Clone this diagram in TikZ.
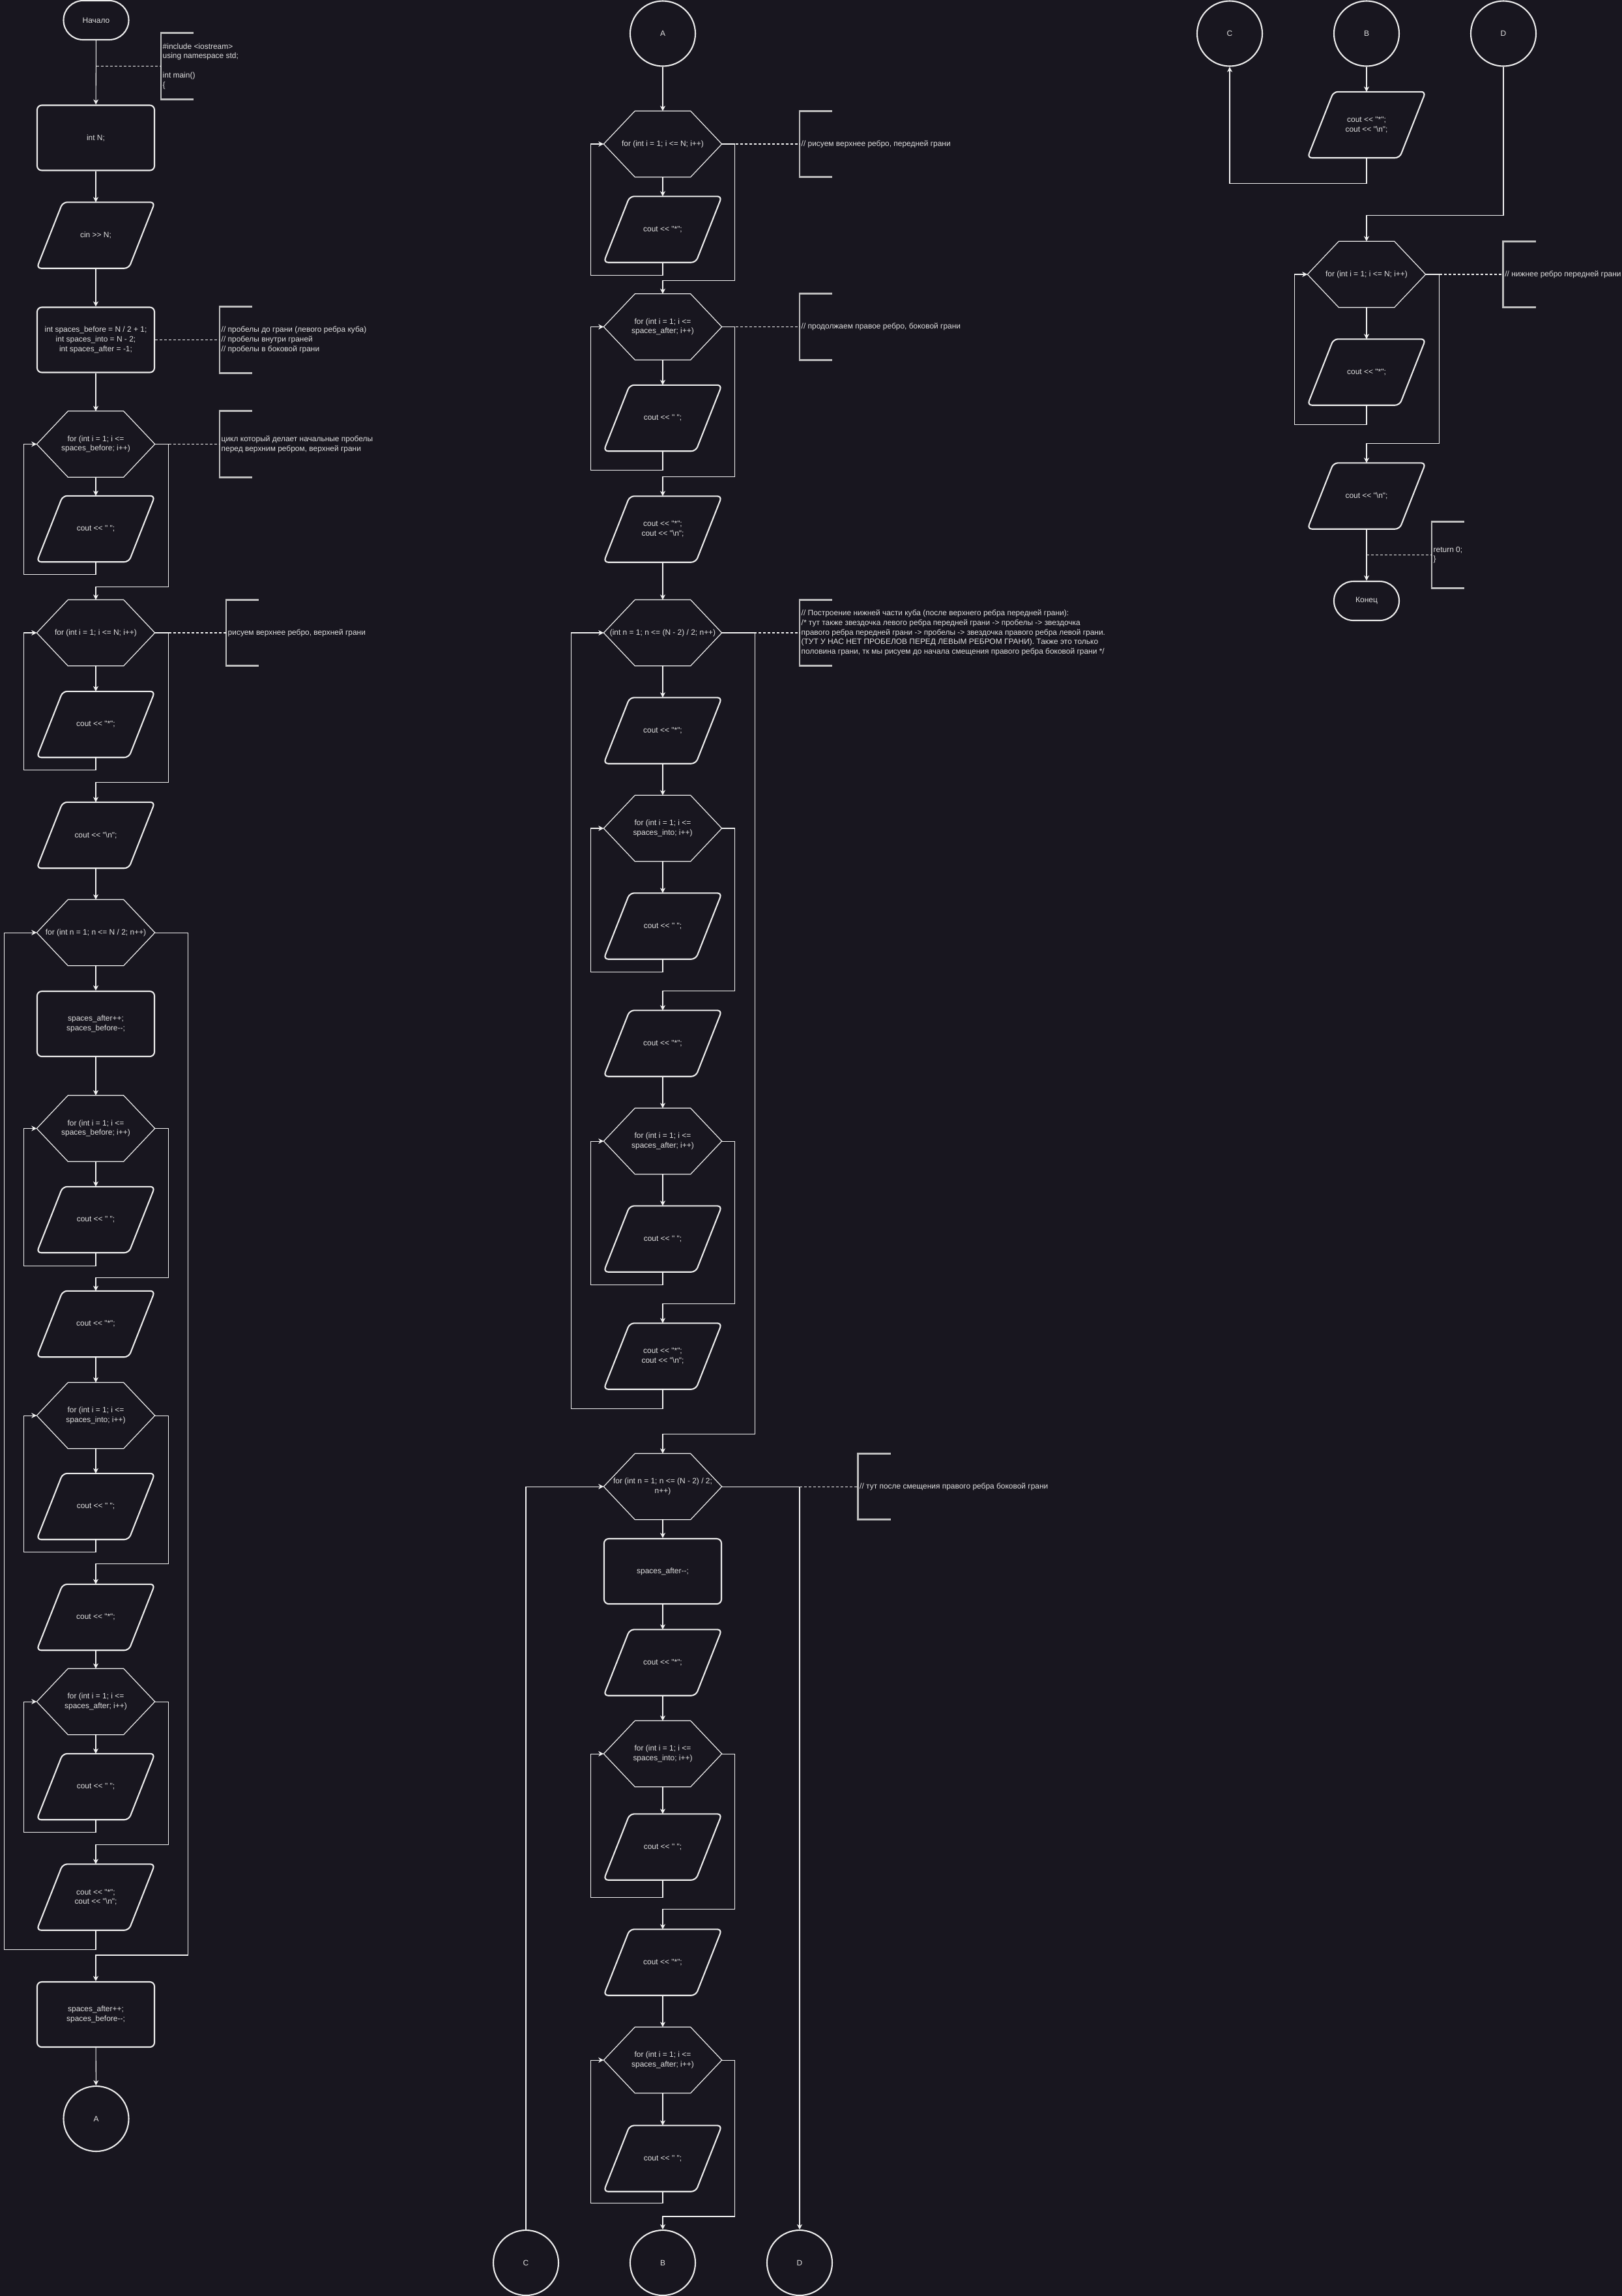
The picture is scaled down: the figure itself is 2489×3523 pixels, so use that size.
\documentclass[tikz,border=0pt]{standalone}
\usepackage{fontspec}
\setmainfont{Liberation Sans}[Ligatures=TeXOff]
\usetikzlibrary{arrows.meta,calc}
\definecolor{bgc}{RGB}{24,22,31}
\definecolor{shp}{RGB}{236,236,236}
\definecolor{txt}{RGB}{224,224,224}
\definecolor{lin}{RGB}{242,242,242}
\definecolor{brkc}{RGB}{190,190,190}
\newcommand\ionode[4]{%
  \node[box] (#1) at (#2,#3) {#4};
  \draw[ioline] (#1.south west) -- ($(#1.south east)+(-40,0)$) -- (#1.north east) -- ($(#1.north west)+(40,0)$) -- cycle;}
\newcommand\hexnode[4]{%
  \node[box] (#1) at (#2,#3) {#4};
  \draw[hexline] (#1.west) -- ($(#1.north west)+(48,0)$) -- ($(#1.north east)+(-48,0)$) -- (#1.east) -- ($(#1.south east)+(-48,0)$) -- ($(#1.south west)+(48,0)$) -- cycle;}
\newcommand\cmtnode[4]{%
  \node[cmt] (#1) at (#2,#3) {#4};
  \draw[brk] ($(#1.north west)+(50,0)$) -- (#1.north west) -- (#1.south west) -- ($(#1.south west)+(50,0)$);}
\newcommand\loopback[4]{\draw[arr] (#1.south) -- ++(0,#3) -| ($(#2.west)+(-#4,0)$) -- (#2.west);}
\newcommand\loopexit[4]{\draw[arr] (#1.east) -- ++(#3,0) |- ($(#2.north)+(0,-#4)$) -- (#2.north);}
\begin{document}
\begin{tikzpicture}[x=0.1mm,y=-0.1mm,
  base/.style={font=\fontsize{3.4pt}{4.2pt}\selectfont, text=txt, align=center, inner sep=0pt},
  box/.style={base, minimum width=18mm, minimum height=10mm},
  proc/.style={box, draw=shp, line width=0.6pt, rounded corners=0.7mm},
  term/.style={base, draw=shp, line width=0.6pt, rounded corners=2.99mm, minimum width=10mm, minimum height=6mm},
  conn/.style={base, draw=shp, line width=0.6pt, circle, minimum size=10mm},
  ioline/.style={draw=shp, line width=0.6pt, rounded corners=0.7mm},
  hexline/.style={draw=shp, line width=0.35pt},
  arr/.style={draw=lin, line width=0.3pt, -{Stealth[length=0.8mm,width=0.8mm,inset=0.25mm]}},
  cmtlink/.style={draw=lin, line width=0.3pt, dash pattern=on 0.4mm off 0.3mm},
  brk/.style={draw=brkc, line width=0.8pt},
  cmt/.style={font=\fontsize{3.4pt}{4.2pt}\selectfont, text=txt, align=left, anchor=west, inner xsep=0.2mm, inner ysep=0pt, minimum height=10mm}
]
\fill[bgc] (0,0) rectangle (2489,3523);
\useasboundingbox (0,0) rectangle (2489,3523);

% ---------------- left column ----------------
\node[term] (start) at (147.5,31) {Начало};
\node[proc] (n1) at (147,211.5) {int N;};
\ionode{n2}{147}{361}{cin >> N;}
\node[proc] (n3) at (147,521.5) {int spaces\_before = N / 2 + 1;\\int spaces\_into = N - 2;\\int spaces\_after = -1;};
\hexnode{h1}{147}{681.5}{for (int i = 1; i <=\\spaces\_before; i++)}
\ionode{p1}{147}{811.5}{cout << " ";}
\hexnode{h2}{147}{971}{for (int i = 1; i <= N; i++)}
\ionode{p2}{147}{1111.5}{cout << "*";}
\ionode{p3}{147}{1281.5}{cout << "\textbackslash n";}
\hexnode{h3}{147}{1431}{for (int n = 1; n <= N / 2; n++)}
\node[proc] (r1) at (147,1571) {spaces\_after++;\\spaces\_before--;};
\hexnode{h4}{147}{1731.5}{for (int i = 1; i <=\\spaces\_before; i++)}
\ionode{p4}{147}{1871.5}{cout << " ";}
\ionode{p5}{147}{2031.5}{cout << "*";}
\hexnode{h5}{147}{2172}{for (int i = 1; i <=\\spaces\_into; i++)}
\ionode{p6}{147}{2311.5}{cout << " ";}
\ionode{p7}{147}{2481.5}{cout << "*";}
\hexnode{h6}{147}{2611}{for (int i = 1; i <=\\spaces\_after; i++)}
\ionode{p8}{147}{2741.5}{cout << " ";}
\ionode{p9}{147}{2911}{cout << "*";\\cout << "\textbackslash n";}
\node[proc] (r2) at (147,3091) {spaces\_after++;\\spaces\_before--;};
\node[conn] (a1) at (147.5,3251) {A};

\coordinate (j1) at (147.5,101.5);
\cmtnode{b1}{247}{101.5}{\#include <iostream>\\using namespace std;\\[4.2pt]int main()\\\{}
\cmtnode{b2}{337}{521.5}{// пробелы до грани (левого ребра куба)\\// пробелы внутри граней\\// пробелы в боковой грани}
\cmtnode{b3}{337}{681.5}{цикл который делает начальные пробелы\\перед верхним ребром, верхней грани}
\cmtnode{b4}{347}{971}{рисуем верхнее ребро, верхней грани}
\draw[cmtlink] (j1) -- (b1.west);
\draw[cmtlink] (n3.east) -- (b2.west);
\draw[cmtlink] (h1.east) -- (b3.west);
\draw[cmtlink] (h2.east) -- (b4.west);

\draw[arr] (start) -- (n1);
\draw[arr] (n1) -- (n2.north);
\draw[arr] (n2.south) -- (n3);
\draw[arr] (n3) -- (h1.north);
\draw[arr] (h1.south) -- (p1.north);
\loopback{p1}{h1}{19.5}{19.5}
\loopexit{h1}{h2}{20.5}{20}
\draw[arr] (h2.south) -- (p2.north);
\loopback{p2}{h2}{19.5}{19.5}
\loopexit{h2}{p3}{20.5}{30}
\draw[arr] (p3.south) -- (h3.north);
\draw[arr] (h3.south) -- (r1);
\draw[arr] (r1) -- (h4.north);
\draw[arr] (h4.south) -- (p4.north);
\loopback{p4}{h4}{20}{19.5}
\loopexit{h4}{p5}{20.5}{20}
\draw[arr] (p5.south) -- (h5.north);
\draw[arr] (h5.south) -- (p6.north);
\loopback{p6}{h5}{19.5}{19.5}
\loopexit{h5}{p7}{20.5}{31}
\draw[arr] (p7.south) -- (h6.north);
\draw[arr] (h6.south) -- (p8.north);
\loopback{p8}{h6}{19.5}{19.5}
\loopexit{h6}{p9}{20.5}{30}
\loopback{p9}{h3}{30}{49.5}
\loopexit{h3}{r2}{50.5}{40}
\draw[arr] (r2) -- (a1);

% ---------------- middle column ----------------
\node[conn] (a2) at (1017,51.5) {A};
\hexnode{m1}{1017}{221}{for (int i = 1; i <= N; i++)}
\ionode{mp1}{1017}{352}{cout << "*";}
\hexnode{m2}{1017}{501.5}{for (int i = 1; i <=\\spaces\_after; i++)}
\ionode{mp2}{1017}{641.5}{cout << " ";}
\ionode{mp3}{1017}{812}{cout << "*";\\cout << "\textbackslash n";}
\hexnode{m3}{1017}{971}{(int n = 1; n <= (N - 2) / 2; n++)}
\ionode{mp4}{1017}{1121}{cout << "*";}
\hexnode{m4}{1017}{1271}{for (int i = 1; i <=\\spaces\_into; i++)}
\ionode{mp5}{1017}{1421}{cout << " ";}
\ionode{mp6}{1017}{1601}{cout << "*";}
\hexnode{m5}{1017}{1751}{for (int i = 1; i <=\\spaces\_after; i++)}
\ionode{mp7}{1017}{1901}{cout << " ";}
\ionode{mp8}{1017}{2081}{cout << "*";\\cout << "\textbackslash n";}
\hexnode{m6}{1017}{2281}{for (int n = 1; n <= (N - 2) / 2;\\n++)}
\node[proc] (mr1) at (1017,2411) {spaces\_after--;};
\ionode{mp9}{1017}{2551}{cout << "*";}
\hexnode{m7}{1017}{2691}{for (int i = 1; i <=\\spaces\_into; i++)}
\ionode{mp10}{1017}{2834}{cout << " ";}
\ionode{mp11}{1017}{3011}{cout << "*";}
\hexnode{m8}{1017}{3161}{for (int i = 1; i <=\\spaces\_after; i++)}
\ionode{mp12}{1017}{3312}{cout << " ";}
\node[conn] (cC) at (807,3472) {C};
\node[conn] (cB) at (1017,3472) {B};
\node[conn] (cD) at (1227,3472) {D};

\cmtnode{bm1}{1227}{221}{// рисуем верхнее ребро, передней грани}
\cmtnode{bm2}{1227}{501.5}{// продолжаем правое ребро, боковой грани}
\cmtnode{bm3}{1227}{971}{// Построение нижней части куба (после верхнего ребра передней грани):\\/* тут также звездочка левого ребра передней грани -> пробелы -> звездочка\\правого ребра передней грани -> пробелы -> звездочка правого ребра левой грани.\\(ТУТ У НАС НЕТ ПРОБЕЛОВ ПЕРЕД ЛЕВЫМ РЕБРОМ ГРАНИ). Также это только\\половина грани, тк мы рисуем до начала смещения правого ребра боковой грани */}
\cmtnode{bm6}{1316.5}{2281}{// тут после смещения правого ребра боковой грани}
\draw[cmtlink] (m1.east) -- (bm1.west);
\draw[cmtlink] (m2.east) -- (bm2.west);
\draw[cmtlink] (m3.east) -- (bm3.west);
\draw[cmtlink] (m6.east) -- (bm6.west);

\draw[arr] (a2) -- (m1.north);
\draw[arr] (m1.south) -- (mp1.north);
\loopback{mp1}{m1}{19.5}{20}
\loopexit{m1}{m2}{20}{20}
\draw[arr] (m2.south) -- (mp2.north);
\loopback{mp2}{m2}{29}{20}
\loopexit{m2}{mp3}{20}{30}
\draw[arr] (mp3.south) -- (m3.north);
\draw[arr] (m3.south) -- (mp4.north);
\draw[arr] (mp4.south) -- (m4.north);
\draw[arr] (m4.south) -- (mp5.north);
\loopback{mp5}{m4}{20}{20}
\loopexit{m4}{mp6}{20}{30}
\draw[arr] (mp6.south) -- (m5.north);
\draw[arr] (m5.south) -- (mp7.north);
\loopback{mp7}{m5}{20}{20}
\loopexit{m5}{mp8}{20}{30}
\loopback{mp8}{m3}{30}{50}
\loopexit{m3}{m6}{50.5}{30}
\draw[arr] (m6.south) -- (mr1);
\draw[arr] (mr1) -- (mp9.north);
\draw[arr] (mp9.south) -- (m7.north);
\draw[arr] (m7.south) -- (mp10.north);
\loopback{mp10}{m7}{27}{20}
\loopexit{m7}{mp11}{20}{31}
\draw[arr] (mp11.south) -- (m8.north);
\draw[arr] (m8.south) -- (mp12.north);
\loopback{mp12}{m8}{18}{20}
\loopexit{m8}{cB}{20}{20}
\draw[arr] (cC.north) |- (m6.west);
\draw[arr] (m6.east) -| (cD.north);

% ---------------- right column ----------------
\node[conn] (rC) at (1887,51.5) {C};
\node[conn] (rB) at (2097,51.5) {B};
\node[conn] (rD) at (2307,51.5) {D};
\ionode{rp1}{2097}{191.5}{cout << "*";\\cout << "\textbackslash n";}
\hexnode{rh1}{2097}{421}{for (int i = 1; i <= N; i++)}
\ionode{rp2}{2097}{571}{cout << "*";}
\ionode{rp3}{2097}{761}{cout << "\textbackslash n";}
\node[term] (fin) at (2097,922) {Конец};

\coordinate (j2) at (2097,851.5);
\cmtnode{br1}{2306.6}{421}{// нижнее ребро передней грани}
\cmtnode{br2}{2197}{851.5}{return 0;\\\}}
\draw[cmtlink] (rh1.east) -- (br1.west);
\draw[cmtlink] (j2) -- (br2.west);

\draw[arr] (rB) -- (rp1.north);
\draw[arr] (rp1.south) -- ++(0,39.5) -| (rC.south);
\draw[arr] (rD.south) |- ($(rh1.north)+(0,-39.5)$) -- (rh1.north);
\draw[arr] (rh1.south) -- (rp2.north);
\loopback{rp2}{rh1}{30}{19.5}
\loopexit{rh1}{rp3}{21}{30}
\draw[arr] (rp3.south) -- (fin);
\end{tikzpicture}
\end{document}
